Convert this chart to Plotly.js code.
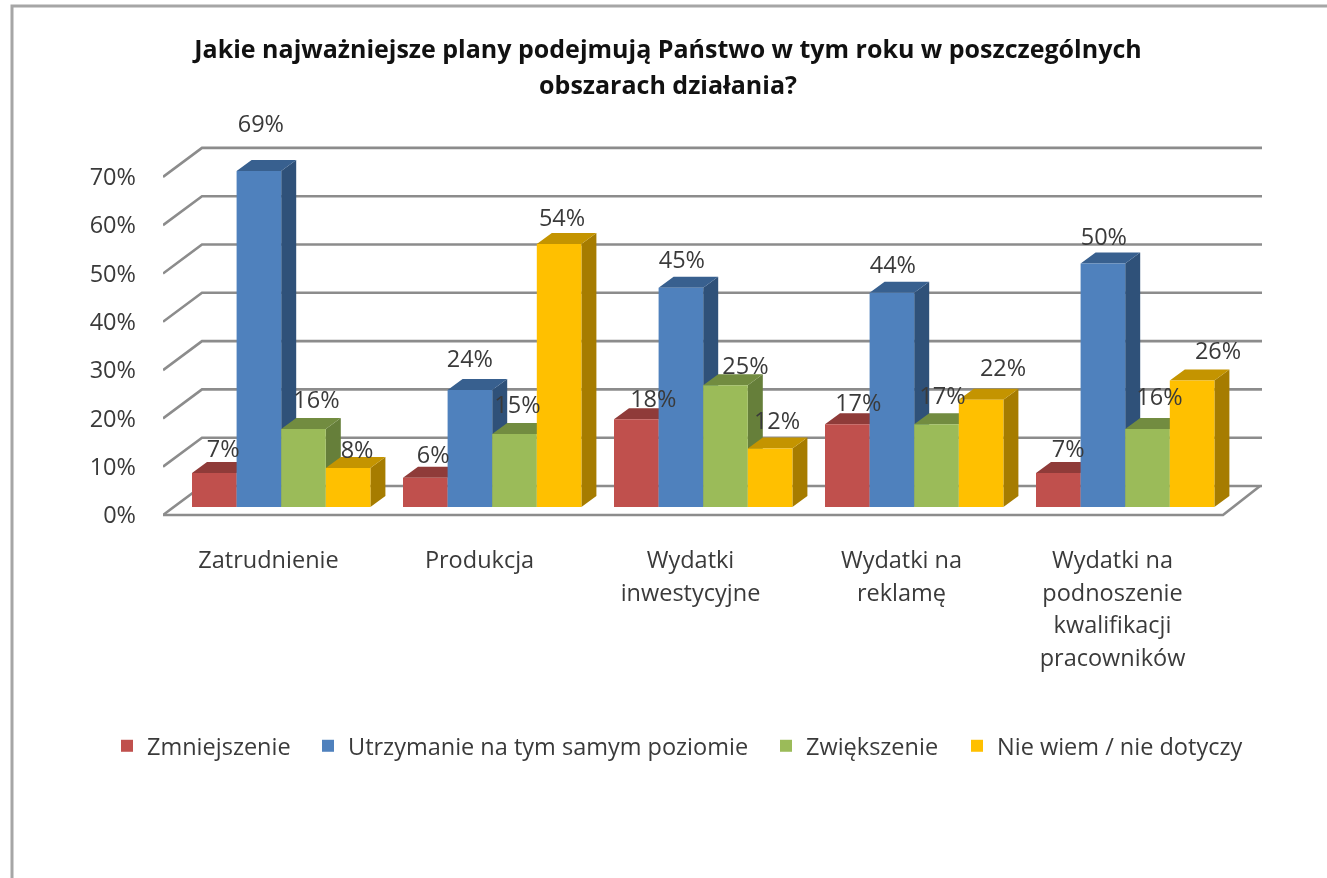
<!DOCTYPE html>
<html><head><meta charset="utf-8">
<script src="https://cdn.plot.ly/plotly-3.0.1.min.js"></script>
<style>html,body{margin:0;padding:0;background:#fff;overflow:hidden}#chart{width:1327px;height:878px;filter:blur(.55px)}</style>
</head><body><div id="chart"></div>
<script>
const categories = ['Zatrudnienie','Produkcja','Wydatki<br>inwestycyjne','Wydatki na<br>reklamę','Wydatki na<br>podnoszenie<br>kwalifikacji<br>pracowników'];
const seriesNames = ['Zmniejszenie','Utrzymanie na tym samym poziomie','Zwiększenie','Nie wiem / nie dotyczy'];
const zmniejszenie = [7,6,18,17,7];
const utrzymanie = [69,24,45,44,50];
const zwiekszenie = [16,15,25,17,16];
const nieWiem = [8,54,12,22,26];
const yTicks = [0,10,20,30,40,50,60,70];
const titleLine1 = 'Jakie najważniejsze plany podejmują Państwo w tym roku w poszczególnych';
const titleLine2 = 'obszarach działania?';

const seriesValues = [zmniejszenie, utrzymanie, zwiekszenie, nieWiem];
const frontColors = ['#C0504D','#4F81BD','#9BBB59','#FFC000'];
const topColors = ['#8F3B39','#38608F','#728C40','#C49400'];
const sideColors = ['#8A3735','#2F5179','#667F3A','#A67C00'];
const FONT = '"Open Sans","Noto Sans",sans-serif';
const TEXT = '#3a3a3a';

// geometry (pixels of the page)
const W=1327,H=878,L=163,R=1270,T=100,B=520;
const pxX=211, gridPxY=4.83, barPxY=4.87;
const xr=[-0.5,-0.5+(R-L)/pxX];
const yr=[-(B-515)/gridPxY,(515-T)/gridPxY];      // wall/axis plane
const yrBars=[-(B-507)/barPxY,(507-T)/barPxY];    // plane the bars stand on
const toDx=p=>p/pxX, toDy=p=>p/barPxY;
const barW=toDx(44.6), shiftX=toDx(12.7);
const depX=toDx(15), depY=toDy(11);
const wallX=toDx(39), wallY=29/gridPxY;
const floorRight=xr[0]+(1223-L)/pxX, wallRight=xr[0]+(1262-L)/pxX;

// label offsets from bar centre/top, in pixels
const labelDx=[[9,8,17,11,10],[2,0,1,1,1],[13,3,20,6,12],[9,3,7,22,26]];
const labelDy=[[-22,-21,-18,-19,-22],[-45,-29,-26,-26,-24],[-27,-27,-17,-26,-30],[-16,-24,-25,-30,-27]];
// where each legend entry starts
const legendStart=[107,308,766,957];
const legendIds=['legend','legend2','legend3','legend4'];

const traces=[];
// grid
const gx=[],gy=[];
yTicks.forEach(v=>{gx.push(xr[0],xr[0]+wallX,wallRight,null);gy.push(v,v+wallY,v+wallY,null);});
gx.push(xr[0],floorRight,floorRight+wallX*0.95);gy.push(0,0,wallY);
traces.push({type:'scatter',mode:'lines',x:gx,y:gy,line:{color:'#8C8C8C',width:2.6},cliponaxis:false,hoverinfo:'skip',showlegend:false});

const cx=(k,i)=>k+shiftX+(i-1.5)*barW;
// side and top faces behind the fronts
seriesValues.forEach((vals,i)=>{
  const sx=[],sy=[],tx=[],ty=[];
  vals.forEach((v,k)=>{
    const c=cx(k,i),l=c-barW/2,r=c+barW/2;
    sx.push(r,r+depX,r+depX,r,r,null);sy.push(0,depY,v+depY,v,0,null);
    tx.push(l,l+depX,r+depX,r,l,null);ty.push(v,v+depY,v+depY,v,v,null);
  });
  traces.push({type:'scatter',mode:'lines',xaxis:'x2',yaxis:'y2',x:sx,y:sy,fill:'toself',fillcolor:sideColors[i],line:{width:0},hoverinfo:'skip',showlegend:false});
  traces.push({type:'scatter',mode:'lines',xaxis:'x2',yaxis:'y2',x:tx,y:ty,fill:'toself',fillcolor:topColors[i],line:{width:0},hoverinfo:'skip',showlegend:false});
});
// fronts
seriesValues.forEach((vals,i)=>{
  traces.push({type:'bar',name:seriesNames[i],legend:legendIds[i],xaxis:'x3',yaxis:'y3',x:vals.map((v,k)=>cx(k,i)),y:vals,width:barW,marker:{color:frontColors[i],line:{width:0}}});
});
// value labels
seriesValues.forEach((vals,i)=>{
  traces.push({type:'scatter',mode:'text',xaxis:'x3',yaxis:'y3',showlegend:false,hoverinfo:'skip',cliponaxis:false,
    x:vals.map((v,k)=>cx(k,i)+toDx(labelDx[i][k])),
    y:vals.map((v,k)=>v-toDy(labelDy[i][k])),
    text:vals.map(v=>v+'%'),textposition:'middle center',textfont:{size:23.5,color:TEXT,family:FONT}});
});
const span=(s,sz)=>s.split('<br>').map(t=>`<span style="font-size:${sz}px">${t}</span>`).join('<br>');
const pX=p=>(p-L)/(R-L), pY=p=>(B-p)/(B-T);
const frame={type:'path',xref:'paper',yref:'paper',path:`M ${pX(12)} ${pY(H)} L ${pX(12)} ${pY(6)} L ${pX(W)} ${pY(6)}`,line:{color:'#A6A6A6',width:3}};
const legendAt=i=>({orientation:'h',x:pX(legendStart[i]),xanchor:'left',y:pY(746),yanchor:'middle',font:{size:23.5,color:TEXT},bgcolor:'rgba(0,0,0,0)'});

const layout={
  width:W,height:H,autosize:false,paper_bgcolor:'#fff',plot_bgcolor:'rgba(0,0,0,0)',
  margin:{l:L,r:W-R,t:T,b:H-B,pad:0},barmode:'overlay',
  font:{family:FONT,color:TEXT},
  title:{text:`<b>${span(titleLine1,25)}<br>${span(titleLine2,25)}</b>`,font:{size:27.5,color:'#111',family:FONT},x:668/W,xanchor:'center',y:1-58/H,yanchor:'top'},
  xaxis:{range:xr,tickmode:'array',tickvals:categories.map((c,k)=>k),ticktext:categories.map(c=>span(c,23.5)),tickfont:{size:25,color:TEXT},tickangle:0,showgrid:false,zeroline:false,showline:false,ticks:'',ticklabelstandoff:22},
  yaxis:{range:yr,tickmode:'array',tickvals:yTicks,ticktext:yTicks.map(v=>v+'%'),tickfont:{size:23.5,color:TEXT},showgrid:false,zeroline:false,showline:false,ticks:'',ticklabelstandoff:26},
  xaxis2:{range:xr,overlaying:'x',visible:false},
  yaxis2:{range:yrBars,overlaying:'y',visible:false},
  xaxis3:{range:xr,overlaying:'x',visible:false},
  yaxis3:{range:yrBars,overlaying:'y',visible:false},
  legend:legendAt(0),legend2:legendAt(1),legend3:legendAt(2),legend4:legendAt(3),
  shapes:[frame],showlegend:true
};
Plotly.newPlot('chart',traces,layout,{displayModeBar:false,responsive:false});
</script></body></html>
